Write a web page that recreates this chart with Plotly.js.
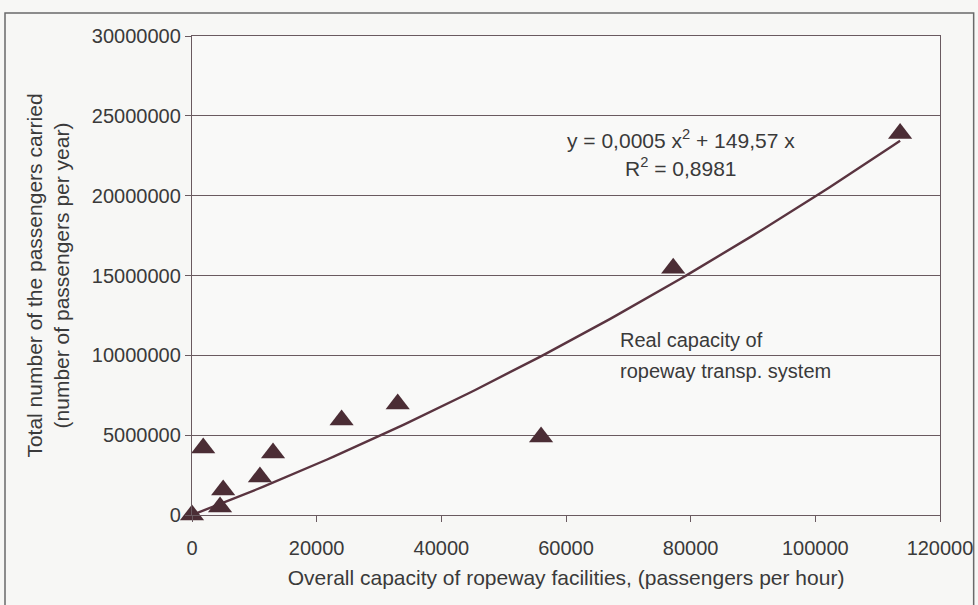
<!DOCTYPE html>
<html>
<head>
<meta charset="utf-8">
<script src="https://cdn.plot.ly/plotly-3.0.1.min.js"></script>
<style>html,body{margin:0;padding:0;background:#f7f7f5;}#chart{width:978px;height:605px;}</style>
</head>
<body>
<div id="chart"></div>
<script>
// Data
const capacity = [0, 1800, 5000, 4500, 10900, 13000, 24000, 33000, 56000, 77200, 113600];
const passengers = [0, 4200000, 1570000, 500000, 2380000, 3880000, 5950000, 6950000, 4880000, 15450000, 23900000];
// Trendline coefficients shown on the chart: y = a x^2 + b x
const trendA = 0.0005;
const trendB = 149.57;
const xTicks = [0, 20000, 40000, 60000, 80000, 100000, 120000];
const yTicks = [0, 5000000, 10000000, 15000000, 20000000, 25000000, 30000000];

const maxX = Math.max(...capacity);
const tx = [], ty = [];
for (let i = 0; i <= 100; i++) {
  const x = maxX * i / 100;
  tx.push(x);
  ty.push(trendA * x * x + trendB * x);
}

const ink = '#4b2d35';
const textCol = '#3a3a3a';
const font = {family: 'Liberation Sans, Arial, sans-serif', size: 20, color: textCol};
const titleFont = {family: 'Liberation Sans, Arial, sans-serif', size: 21, color: textCol};
const annFont = {family: 'Liberation Sans, Arial, sans-serif', size: 21, color: textCol};

const traces = [
  {x: tx, y: ty, mode: 'lines', line: {color: '#5a3440', width: 2.4}, hoverinfo: 'skip', showlegend: false},
  {x: capacity, y: passengers, mode: 'markers', cliponaxis: false, marker: {symbol: 'triangle-up', size: 21, color: ink}, showlegend: false}
];

const layout = {
  width: 978, height: 605,
  paper_bgcolor: '#f7f7f5', plot_bgcolor: '#f9f9f8',
  margin: {l: 192, r: 38, t: 36, b: 90},
  font: font,
  showlegend: false,
  xaxis: {
    range: [0, 120000], tickvals: xTicks, ticktext: xTicks.map(String),
    showgrid: false, zeroline: false, showline: true, linecolor: '#6a5a60', linewidth: 1.2, mirror: true,
    ticks: 'outside', ticklen: 6, tickcolor: '#6a5a60', tickfont: font, ticklabelstandoff: 9,
    title: {text: 'Overall capacity of ropeway facilities, (passengers per hour)', font: titleFont, standoff: 12}
  },
  yaxis: {
    range: [0, 30000000], tickvals: yTicks, ticktext: yTicks.map(String),
    showgrid: true, gridcolor: '#6a5a60', gridwidth: 1, zeroline: false,
    showline: true, linecolor: '#6a5a60', linewidth: 1.2, mirror: true,
    ticks: 'outside', ticklen: 6, tickcolor: '#6a5a60', tickfont: font,
    title: {text: 'Total number of the passengers carried<br>(number of passengers per year)', font: titleFont, standoff: 16}
  },
  shapes: [
    {type: 'rect', xref: 'paper', yref: 'paper', x0: -0.25, x1: 1.045, y0: -0.35, y1: 1.048,
     line: {color: '#6a6a6a', width: 1.5}, fillcolor: 'rgba(0,0,0,0)', layer: 'below'}
  ],
  annotations: [
    {xref: 'x', yref: 'y', x: 78500, y: 23550000, text: 'y = 0,0005 x<sup>2</sup> + 149,57 x', showarrow: false, font: annFont, xanchor: 'center'},
    {xref: 'x', yref: 'y', x: 78500, y: 21800000, text: 'R<sup>2</sup> = 0,8981', showarrow: false, font: annFont, xanchor: 'center'},
    {xref: 'x', yref: 'y', x: 68300, y: 10950000, text: 'Real capacity of', showarrow: false, font: font, xanchor: 'left'},
    {xref: 'x', yref: 'y', x: 68300, y: 9050000, text: 'ropeway transp. system', showarrow: false, font: font, xanchor: 'left'}
  ]
};

Plotly.newPlot('chart', traces, layout, {displayModeBar: false, staticPlot: true});
</script>
</body>
</html>
